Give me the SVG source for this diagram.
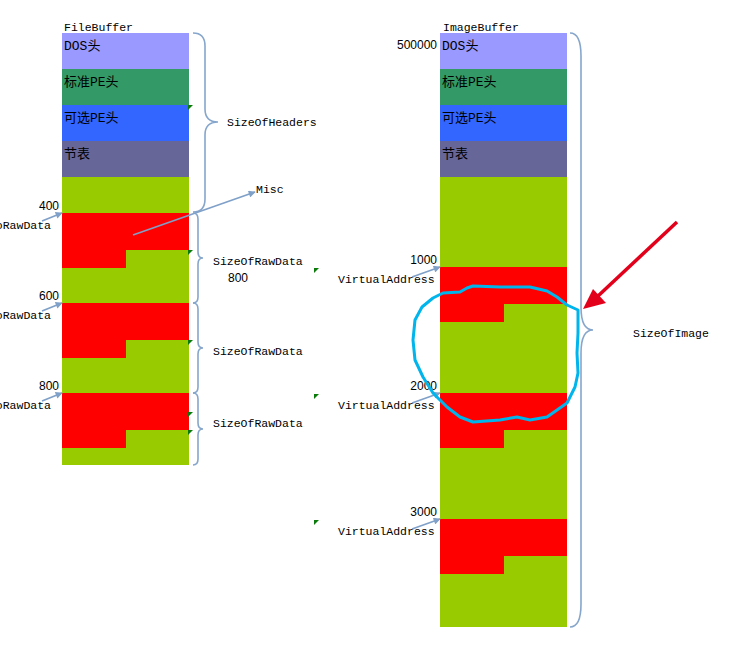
<svg xmlns="http://www.w3.org/2000/svg" width="744" height="645" viewBox="0 0 744 645">
<defs>
<marker id="ah" viewBox="0 0 10 10" refX="9" refY="5" markerWidth="8" markerHeight="7" markerUnits="userSpaceOnUse" orient="auto">
<path d="M0,0 L10,5 L0,10 z" fill="#7fa0c8"/>
</marker>
</defs>
<style>
.mono{font-family:"Liberation Mono","Noto Sans CJK SC",monospace;font-size:11.5px;fill:#000}
.cell{font-family:"Liberation Mono","Noto Sans CJK SC",monospace;font-size:13px;fill:#000}
.num{font-family:"Liberation Sans",Arial,sans-serif;font-size:12px;fill:#000}
.dos{fill:#9999ff}.pe{fill:#339966}.opt{fill:#3366ff}.sec{fill:#666699}.g{fill:#99cc00}.r{fill:#ff0000}
.br{fill:none;stroke:#86a6cc;stroke-width:1.6}
.ar{fill:none;stroke:#7fa0c8;stroke-width:1.6;marker-end:url(#ah)}
.mk{fill:#0a7a0a}
</style>
<rect width="744" height="645" fill="#ffffff"/>

<g id="fileBuffer">
<text class="mono" x="64" y="31">FileBuffer</text>
<rect class="dos" x="62" y="33" width="127" height="36"/>
<rect class="pe" x="62" y="69" width="127" height="36"/>
<rect class="opt" x="62" y="105" width="127" height="36"/>
<rect class="sec" x="62" y="141" width="127" height="36"/>
<rect class="g" x="62" y="177" width="127" height="36"/>
<text class="cell" x="64" y="50">DOS头</text>
<text class="cell" x="64" y="86">标准PE头</text>
<text class="cell" x="64" y="122">可选PE头</text>
<text class="cell" x="64" y="158">节表</text>
<rect class="r" x="62" y="213" width="127" height="55"/>
<rect class="g" x="126" y="250" width="63" height="18"/>
<rect class="g" x="62" y="268" width="127" height="35"/>
<rect class="r" x="62" y="303" width="127" height="55"/>
<rect class="g" x="126" y="340" width="63" height="18"/>
<rect class="g" x="62" y="358" width="127" height="35"/>
<rect class="r" x="62" y="393" width="127" height="55"/>
<rect class="g" x="126" y="430" width="63" height="18"/>
<rect class="g" x="62" y="448" width="127" height="17"/>
<path class="mk" d="M188,105 h5 l-5,5 z"/>
<path class="mk" d="M188,250 h5 l-5,5 z"/>
<path class="mk" d="M188,340 h5 l-5,5 z"/>
<path class="mk" d="M188,412 h5 l-5,5 z"/>
<path class="mk" d="M188,430 h5 l-5,5 z"/>
</g>

<g id="imageBuffer">
<text class="mono" x="443" y="31">ImageBuffer</text>
<text class="num" x="437" y="49" text-anchor="end">500000</text>
<rect class="dos" x="440" y="33" width="127" height="36"/>
<rect class="pe" x="440" y="69" width="127" height="36"/>
<rect class="opt" x="440" y="105" width="127" height="36"/>
<rect class="sec" x="440" y="141" width="127" height="36"/>
<rect class="g" x="440" y="177" width="127" height="90"/>
<text class="cell" x="442" y="50">DOS头</text>
<text class="cell" x="442" y="86">标准PE头</text>
<text class="cell" x="442" y="122">可选PE头</text>
<text class="cell" x="442" y="158">节表</text>
<rect class="r" x="440" y="267" width="127" height="55"/>
<rect class="g" x="504" y="304" width="63" height="18"/>
<rect class="g" x="440" y="322" width="127" height="71"/>
<rect class="r" x="440" y="393" width="127" height="55"/>
<rect class="g" x="504" y="430" width="63" height="18"/>
<rect class="g" x="440" y="448" width="127" height="71"/>
<rect class="r" x="440" y="519" width="127" height="55"/>
<rect class="g" x="504" y="556" width="63" height="18"/>
<rect class="g" x="440" y="574" width="127" height="53"/>
</g>

<g id="labels">
<text class="num" x="59" y="210" text-anchor="end">400</text>
<text class="num" x="59" y="300" text-anchor="end">600</text>
<text class="num" x="59" y="390" text-anchor="end">800</text>
<text class="mono" x="51" y="229" text-anchor="end">PointerToRawData</text>
<text class="mono" x="51" y="319" text-anchor="end">PointerToRawData</text>
<text class="mono" x="51" y="409" text-anchor="end">PointerToRawData</text>
<text class="mono" x="227" y="126">SizeOfHeaders</text>
<text class="mono" x="213" y="265">SizeOfRawData</text>
<text class="num" x="228" y="282">800</text>
<text class="mono" x="213" y="355">SizeOfRawData</text>
<text class="mono" x="213" y="427">SizeOfRawData</text>
<text class="mono" x="256" y="193">Misc</text>
<text class="num" x="437" y="264" text-anchor="end">1000</text>
<text class="num" x="437" y="390" text-anchor="end">2000</text>
<text class="num" x="437" y="516" text-anchor="end">3000</text>
<text class="mono" x="338" y="283">VirtualAddress</text>
<text class="mono" x="338" y="409">VirtualAddress</text>
<text class="mono" x="338" y="535">VirtualAddress</text>
<text class="mono" x="633" y="337">SizeOfImage</text>
<path class="mk" d="M314,268 h5 l-5,5 z"/>
<path class="mk" d="M314,394 h5 l-5,5 z"/>
<path class="mk" d="M314,520 h5 l-5,5 z"/>
</g>

<g id="connectors">
<path class="br" d="M193,33 Q205,33 205,46 L205,109 Q205,122 218,122 Q205,122 205,135 L205,199 Q205,212 193,212"/>
<path class="br" d="M193,213 Q198,213 198,219 L198,252 Q198,258 203,258 Q198,258 198,264 L198,297 Q198,303 193,303"/>
<path class="br" d="M193,303 Q198,303 198,309 L198,342 Q198,348 203,348 Q198,348 198,354 L198,387 Q198,393 193,393"/>
<path class="br" d="M193,393 Q198,393 198,399 L198,423 Q198,429 203,429 Q198,429 198,435 L198,459 Q198,465 193,465"/>
<path class="br" d="M570,33 Q581,33 581,56 L581,307 Q581,330 593,330 Q581,330 581,353 L581,604 Q581,627 570,627"/>
<path class="ar" d="M42,221 L62,213"/>
<path class="ar" d="M42,311 L62,303"/>
<path class="ar" d="M42,401 L62,393"/>
<path class="ar" d="M412,277 L440,267"/>
<path class="ar" d="M412,403 L440,393"/>
<path class="ar" d="M412,529 L440,519"/>
<path class="ar" d="M133,235 L255,192"/>
<path d="M677,222 L598,296" stroke="#e2001a" stroke-width="3.5" fill="none"/>
<path d="M583,309 L593,289 L606,303 z" fill="#e2001a"/>
<path d="M443,293 L460,292 L467,288 L473,286 L500,287 L530,287 L547,291 L557,297 L567,305 L578,310 L578,333 L577,353 L578,373 L575,387 L567,403 L557,410 L547,417 L530,420 L517,417 L500,420 L473,422 L460,417 L447,407 L433,393 L423,377 L415,360 L413,340 L415,320 L422,307 L433,298 Z" fill="none" stroke="#00b4ec" stroke-width="3" stroke-linejoin="round"/>
</g>
</svg>
